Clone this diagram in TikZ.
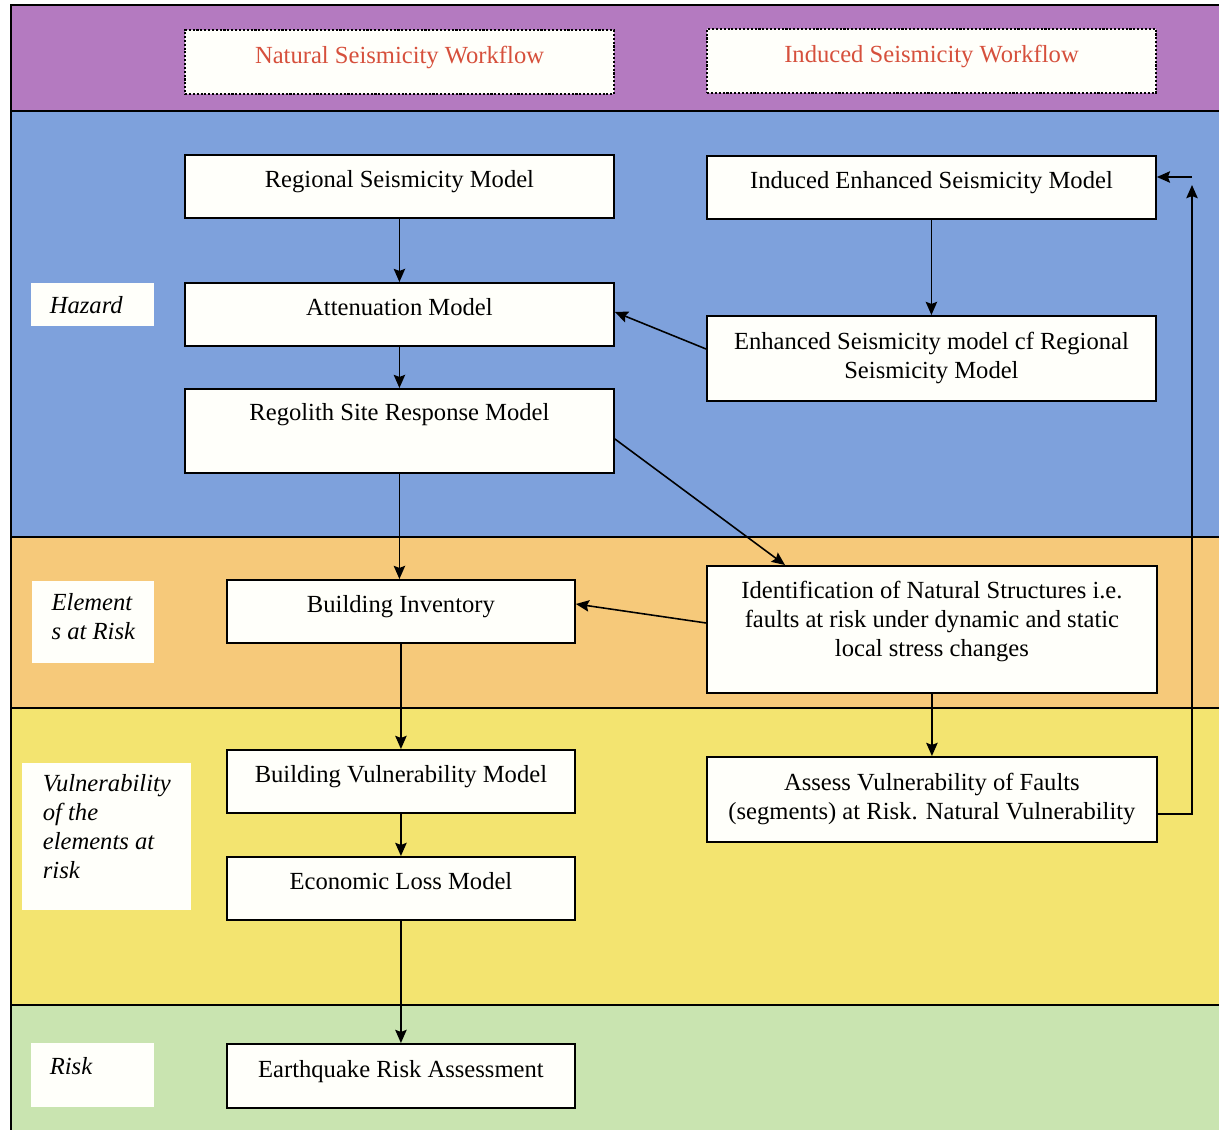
\documentclass[tikz,border=0pt]{standalone}
\usepackage{fontspec}
\setmainfont{Liberation Serif}
\usetikzlibrary{arrows.meta}
\definecolor{cpurple}{RGB}{180,122,192}
\definecolor{cblue}{RGB}{126,161,220}
\definecolor{corange}{RGB}{246,201,122}
\definecolor{cyellow}{RGB}{243,228,112}
\definecolor{cgreen}{RGB}{201,228,176}
\definecolor{cwhite}{RGB}{255,255,250}
\definecolor{cred}{RGB}{214,80,60}
\begin{document}
\begin{tikzpicture}[x=0.02cm,y=-0.02cm,
  font=\fontsize{14}{16.5}\selectfont,
  box/.style={draw=black, line width=1.1pt, fill=cwhite, anchor=north west, align=center, inner xsep=2pt},
  one/.style={text height=0.58cm, text depth=0.52cm, inner ysep=0.08cm},
  header/.style={draw=black, densely dotted, line width=1.2pt, fill=cwhite, anchor=north west, text=cred,
     text height=0.58cm, text depth=0.54cm, inner ysep=0.08cm},
  lab/.style={fill=cwhite, anchor=north west, align=left, font=\fontsize{14}{16.5}\selectfont\itshape, inner xsep=0.37cm},
  arr/.style={-{Stealth[length=7.5pt,width=6.5pt,inset=1.2pt]}, line width=0.9pt},
  frame/.style={line width=1.2pt, black}]
\useasboundingbox (0,0) rectangle (1219,1130);
\fill[white] (0,0) rectangle (1219,1130);
% bands
\fill[cpurple] (11,5) rectangle (1219,111);
\fill[cblue] (11,111) rectangle (1219,537);
\fill[corange] (11,537) rectangle (1219,708);
\fill[cyellow] (11,708) rectangle (1219,1005);
\fill[cgreen] (11,1005) rectangle (1219,1130);
\draw[frame] (1219,5) -- (11,5) -- (11,1130);
\draw[frame] (11,111) -- (1219,111);
\draw[frame] (11,537) -- (1219,537);
\draw[frame] (11,708) -- (1219,708);
\draw[frame] (11,1005) -- (1219,1005);
% headers
\node[header, minimum width=8.58cm, minimum height=1.28cm] (nat) at (184,29) {Natural Seismicity Workflow};
\node[header, minimum width=8.98cm, minimum height=1.26cm] (ind) at (706,28) {Induced Seismicity Workflow};
% left column
\node[box, one, minimum width=8.58cm, minimum height=1.26cm] (reg) at (184,154) {Regional Seismicity Model};
\node[box, one, minimum width=8.58cm, minimum height=1.26cm] (att) at (184,282) {Attenuation Model};
\node[box, text height=0.56cm, text depth=0.96cm, inner ysep=0.08cm, minimum width=8.58cm, minimum height=1.68cm] (rsr) at (184,388) {Regolith Site Response Model};
\node[box, one, minimum width=6.96cm, minimum height=1.26cm] (bi) at (226,579) {Building Inventory};
\node[box, one, minimum width=6.96cm, minimum height=1.26cm] (bvm) at (226,749) {Building Vulnerability Model};
\node[box, one, minimum width=6.96cm, minimum height=1.26cm] (elm) at (226,856) {Economic Loss Model};
\node[box, one, minimum width=6.96cm, minimum height=1.28cm] (era) at (226,1043) {Earthquake Risk Assessment};
% right column
\node[box, one, minimum width=8.98cm, minimum height=1.26cm] (ies) at (706,155) {Induced Enhanced Seismicity Model};
\node[box, minimum width=8.98cm, minimum height=1.70cm] (encf) at (706,315) {Enhanced Seismicity model cf Regional\\Seismicity Model};
\node[box, text height=1.74cm, text depth=0.64cm, inner ysep=0.08cm, minimum width=9.0cm, minimum height=2.54cm] (ident) at (706,565) {Identification of Natural Structures i.e.\\faults at risk under dynamic and static\\local stress changes};
\node[box, minimum width=9.0cm, minimum height=1.70cm] (assess) at (706,756) {Assess Vulnerability of Faults\\(segments) at Risk. Natural Vulnerability};
% labels
\node[lab, text width=1.72cm, minimum width=2.46cm, minimum height=0.86cm] (haz) at (31,283) {Hazard};
\node[lab, text height=1.08cm, text depth=0.40cm, inner ysep=0.08cm, minimum width=2.44cm, minimum height=1.64cm] (ear) at (32,581) {Element\\s at Risk};
\node[lab, text height=2.22cm, text depth=0.56cm, inner ysep=0.08cm, minimum width=3.38cm, minimum height=2.94cm] (vul) at (22,763) {Vulnerability\\of the\\elements at\\risk};
\node[lab, text width=1.72cm, text height=0.54cm, text depth=0.58cm, inner ysep=0.08cm, minimum width=2.46cm, minimum height=1.28cm] (risk) at (31,1043) {Risk};
% connectors
\draw[arr] (reg.south) -- (att.north);
\draw[arr] (att.south) -- (rsr.north);
\draw[arr] (rsr.south) -- (rsr.south |- bi.north);
\draw[arr] (bi.south) -- (bvm.north);
\draw[arr] (bvm.south) -- (elm.north);
\draw[arr] (elm.south) -- (era.north);
\draw[arr] (ies.south) -- (encf.north);
\draw[arr] ([yshift=0.19cm]encf.west) -- ([yshift=0.05cm]att.east);
\draw[arr] ([yshift=-0.16cm]rsr.east) -- ([xshift=1.58cm]ident.north west);
\draw[arr] ([yshift=0.13cm]ident.west) -- ([yshift=0.15cm]bi.east);
\draw[arr] (ident.south) -- (assess.north);
\coordinate (fbup) at (1192,185);
\coordinate (fbin) at (1192,177);
\draw[arr] ([yshift=-0.29cm]assess.east) -| (fbup);
\draw[arr] (fbin) -- (ies.east |- fbin);
\end{tikzpicture}
\end{document}
